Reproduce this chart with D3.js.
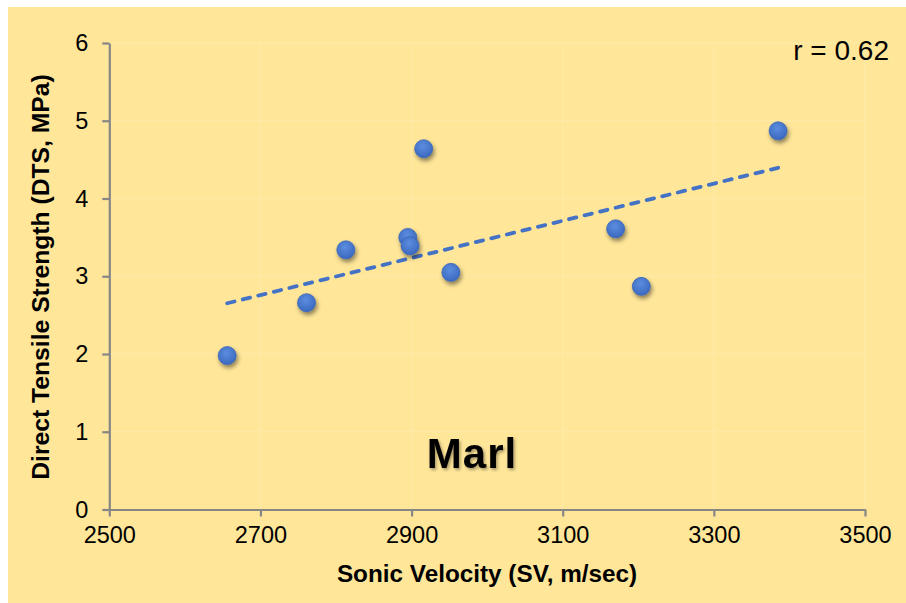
<!DOCTYPE html>
<html>
<head>
<meta charset="utf-8">
<script src="https://cdn.jsdelivr.net/npm/d3@7"></script>
<style>
  html, body { margin: 0; padding: 0; background: #ffffff; }
  svg { display: block; }
  text { font-family: "Liberation Sans", Arial, sans-serif; fill: #000; }
</style>
</head>
<body>
<svg id="chart" width="906" height="603"></svg>
<script>
// Sonic velocity (m/s) and direct tensile strength (MPa) of marl samples
const sonicVelocity = [2656, 2761, 2813, 2895, 2898, 2916, 2952, 3170, 3204, 3385];
const tensileStrength = [1.98, 2.66, 3.34, 3.50, 3.39, 4.64, 3.05, 3.61, 2.87, 4.87];
const xTicks = [2500, 2700, 2900, 3100, 3300, 3500];
const yTicks = [0, 1, 2, 3, 4, 5, 6];
const rockLabel = "Marl";
const xTitle = "Sonic Velocity (SV, m/sec)";
const yTitle = "Direct Tensile Strength (DTS, MPa)";

const svg = d3.select("#chart");
const W = 906, H = 603;

// chart background panel
svg.append("rect").attr("x", 8).attr("y", 7).attr("width", W - 8).attr("height", H - 7)
  .attr("fill", "#FFE699");

const x = d3.scaleLinear().domain([2500, 3500]).range([109.3, 865]);
const y = d3.scaleLinear().domain([0, 6]).range([509.5, 43]);

const defs = svg.append("defs");
const grad = defs.append("radialGradient").attr("id", "dotFill")
  .attr("cx", "45%").attr("cy", "35%").attr("r", "65%");
grad.append("stop").attr("offset", "0%").attr("stop-color", "#5B8DDD");
grad.append("stop").attr("offset", "100%").attr("stop-color", "#3B69C0");
const sh = defs.append("filter").attr("id", "dotShadow")
  .attr("x", "-50%").attr("y", "-50%").attr("width", "200%").attr("height", "200%");
sh.append("feDropShadow").attr("dx", 1.5).attr("dy", 3).attr("stdDeviation", 2)
  .attr("flood-color", "#000").attr("flood-opacity", 0.45);
const tsh = defs.append("filter").attr("id", "textShadow")
  .attr("x", "-20%").attr("y", "-30%").attr("width", "140%").attr("height", "160%");
tsh.append("feDropShadow").attr("dx", 1.5).attr("dy", 2).attr("stdDeviation", 1.5)
  .attr("flood-color", "#000").attr("flood-opacity", 0.35);

// gridlines
const grid = svg.append("g").attr("stroke", "#FFEAA8").attr("stroke-width", 1);
grid.selectAll("line.h").data(yTicks.slice(1)).join("line")
  .attr("x1", x(2500)).attr("x2", x(3500))
  .attr("y1", d => y(d)).attr("y2", d => y(d));
grid.selectAll("line.v").data(xTicks.slice(1)).join("line")
  .attr("y1", y(0)).attr("y2", y(6))
  .attr("x1", d => x(d)).attr("x2", d => x(d));

// axes
const xAxis = svg.append("g").attr("transform", `translate(0,${y(0)})`)
  .call(d3.axisBottom(x).tickValues(xTicks).tickFormat(d3.format("d"))
    .tickSize(7).tickPadding(10).tickSizeOuter(0));
const yAxis = svg.append("g").attr("transform", `translate(${x(2500)},0)`)
  .call(d3.axisLeft(y).tickValues(yTicks).tickFormat(d3.format("d"))
    .tickSize(7).tickPadding(14).tickSizeOuter(0));
[xAxis, yAxis].forEach(a => {
  a.select(".domain").attr("stroke", "#868686").attr("stroke-width", 2.2);
  a.selectAll(".tick line").attr("stroke", "#868686").attr("stroke-width", 2.2);
  a.selectAll(".tick text").attr("font-size", 23.5)
    .attr("font-family", "'Liberation Sans', Arial, sans-serif").attr("fill", "#000");
});

// least-squares trendline over the sampled velocity range
const mx = d3.mean(sonicVelocity), my = d3.mean(tensileStrength);
let sxy = 0, sxx = 0, syy = 0;
sonicVelocity.forEach((v, i) => {
  sxy += (v - mx) * (tensileStrength[i] - my);
  sxx += (v - mx) ** 2;
  syy += (tensileStrength[i] - my) ** 2;
});
const slope = sxy / sxx, icpt = my - slope * mx;
const r = sxy / Math.sqrt(sxx * syy);
const xr = d3.extent(sonicVelocity);
svg.append("path")
  .datum(xr.map(v => [v, icpt + slope * v]))
  .attr("d", d3.line().x(d => x(d[0])).y(d => y(d[1])))
  .attr("fill", "none").attr("stroke", "#4472C4").attr("stroke-width", 3.8)
  .attr("stroke-dasharray", "7.5,8.5").attr("stroke-linecap", "round");

// data points
svg.append("g").selectAll("circle").data(sonicVelocity).join("circle")
  .attr("cx", d => x(d))
  .attr("cy", (d, i) => y(tensileStrength[i]))
  .attr("r", 9)
  .attr("fill", "url(#dotFill)")
  .attr("stroke", "#3A66B8").attr("stroke-width", 0.8)
  .attr("filter", "url(#dotShadow)");

// correlation coefficient
svg.append("text").attr("x", 889).attr("y", 60).attr("text-anchor", "end")
  .attr("font-size", 28).text(`r = ${r.toFixed(2)}`);

// rock type label
svg.append("text").attr("x", 472).attr("y", 468).attr("text-anchor", "middle")
  .attr("font-size", 42).attr("font-weight", "bold").attr("letter-spacing", 1)
  .attr("filter", "url(#textShadow)").text(rockLabel);

// axis titles
svg.append("text").attr("x", 487).attr("y", 582).attr("text-anchor", "middle")
  .attr("font-size", 24.3).attr("font-weight", "bold").text(xTitle);
svg.append("text").attr("transform", "translate(49,277) rotate(-90)")
  .attr("text-anchor", "middle")
  .attr("font-size", 24.7).attr("font-weight", "bold").text(yTitle);
</script>
</body>
</html>
